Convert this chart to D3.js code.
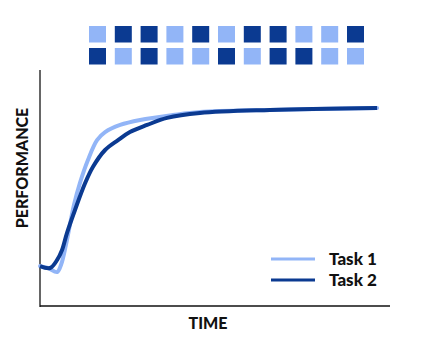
<html>
<head>
	<title>Task performance</title>
	<style>
		body { margin: 0; background: #fff; }
		text { font-family: Lato, "DejaVu Sans", sans-serif; font-weight: 900; fill: #111; }
	</style>
</head>
<body>
	<script src="https://cdnjs.cloudflare.com/ajax/libs/d3/7.8.5/d3.min.js"></script>
	<script type="text/javascript">
		// pattern of squares above the chart (L = light / task 1, D = dark / task 2)
		var topRow    = ["L","D","D","L","D","L","D","D","L","L","D"];
		var bottomRow = ["D","L","D","L","L","D","L","D","D","L","L"];

		// curves, time vs performance (0-100 both)
		var time1 = [0, 2.3, 4.9, 6.0, 7.4, 9.7, 11.4, 13.7, 16.3, 18.6, 22.9, 28.6, 38.0, 45.7, 65.7, 96.3];
		var perf1 = [16.9, 16.1, 14.4, 17.4, 25.8, 42.8, 52.1, 61.9, 70.3, 73.7, 76.7, 78.8, 80.9, 82.2, 83.1, 83.9];
		var time2 = [0, 2.9, 4.9, 6.3, 7.7, 10.0, 12.9, 15.1, 18.6, 22.3, 25.7, 30.6, 36.3, 45.7, 65.7, 96.3];
		var perf2 = [16.9, 16.1, 19.5, 23.7, 30.9, 40.7, 52.1, 58.9, 66.1, 70.3, 73.7, 76.7, 79.7, 81.8, 83.1, 83.9];

		var seriesNames = ["Task 1", "Task 2"];
		var light = "#92b5f7", dark = "#0b3a91";

		var W = 421, H = 347;
		var svg = d3.select("body").append("svg")
					.attr("width", W)
					.attr("height", H);

		var x = d3.scaleLinear().domain([0, 100]).range([40, 390]);
		var y = d3.scaleLinear().domain([0, 100]).range([306, 70]);

		// squares
		var sq = 17;
		var col = d3.scalePoint().domain(d3.range(topRow.length)).range([89, 347]);
		[topRow, bottomRow].forEach(function(row, r){
			svg.append("g").selectAll("rect")
				.data(row)
				.enter().append("rect")
				.attr("x", function(d, i){ return col(i); })
				.attr("y", r === 0 ? 26 : 48)
				.attr("width", sq)
				.attr("height", sq - 0.5)
				.style("fill", function(d){ return d === "L" ? light : dark; });
		});

		// axes (plain lines, no ticks)
		svg.append("line")
			.attr("x1", x(0)).attr("x2", x(0))
			.attr("y1", y(100)).attr("y2", y(0) + 1)
			.style("stroke", "#333")
			.style("stroke-width", "1.5px");
		svg.append("line")
			.attr("x1", x(0)).attr("x2", x(100))
			.attr("y1", y(0)).attr("y2", y(0))
			.style("stroke", "#111")
			.style("stroke-width", "1.5px");

		var line = d3.line()
					.x(function(d){ return x(d[0]); })
					.y(function(d){ return y(d[1]); })
					.curve(d3.curveCatmullRom.alpha(0.5));

		var s1 = d3.zip(time1, perf1), s2 = d3.zip(time2, perf2);
		svg.append("path")
			.attr("d", line(s1))
			.style("fill", "none")
			.style("stroke", light)
			.style("stroke-width", "4px")
			.style("stroke-linecap", "round");
		svg.append("path")
			.attr("d", line(s2))
			.style("fill", "none")
			.style("stroke", dark)
			.style("stroke-width", "4px");

		// axis labels
		svg.append("text")
			.attr("x", 208).attr("y", 329)
			.attr("text-anchor", "middle")
			.style("font-size", "16px")
			.text("TIME");
		svg.append("text")
			.attr("transform", "translate(28,168) rotate(-90)")
			.attr("text-anchor", "middle")
			.style("font-size", "16px")
			.text("PERFORMANCE");

		// legend
		var lg = svg.append("g").selectAll("g")
					.data(seriesNames)
					.enter().append("g")
					.attr("transform", function(d, i){ return "translate(271," + (259 + i*21) + ")"; });
		lg.append("line")
			.attr("x1", 0).attr("x2", 44)
			.style("stroke", function(d, i){ return i === 0 ? light : dark; })
			.style("stroke-width", "3px");
		lg.append("text")
			.attr("x", 58).attr("y", 6)
			.style("font-size", "17px")
			.text(function(d){ return d; });
	</script>
</body>
</html>
